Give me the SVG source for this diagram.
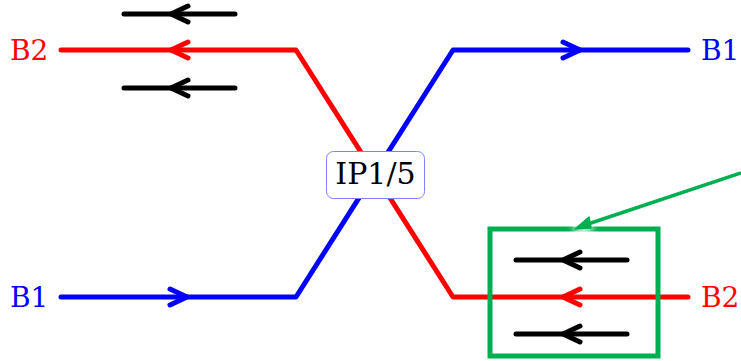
<svg xmlns="http://www.w3.org/2000/svg" xmlns:xlink="http://www.w3.org/1999/xlink" width="741" height="361" viewBox="0 0 741 361">
<style>
.ln{fill:none;stroke-width:5;stroke-linecap:round;stroke-linejoin:round}
.red{stroke:#ff0000}
.blue{stroke:#0000ff}
.blk{stroke:#000000}
.lbl{font-family:"DejaVu Serif",serif;font-size:28px}
</style>
<defs>
<path id="chevL" d="M17,-8 L0,0 L17,8" class="ln"/>
<path id="chevR" d="M-17,-8 L0,0 L-17,8" class="ln"/>
<filter id="glow" x="-1" y="-1" width="3" height="3"><feGaussianBlur stdDeviation="3"/></filter>
</defs>
<rect width="741" height="361" fill="#ffffff"/>
<g id="connectors">
<path class="ln red" d="M61,50 H296 L453,297 H688"/>
<path class="ln blue" d="M61,297 H296 L453,50 H688"/>
<use xlink:href="#chevL" x="171" y="50" class="red"/>
<use xlink:href="#chevL" x="563" y="297" class="red"/>
<use xlink:href="#chevR" x="187" y="297" class="blue"/>
<use xlink:href="#chevR" x="580" y="50" class="blue"/>
</g>
<g id="beam-top">
<path class="ln blk" d="M124,14 H235 M124,88 H235"/>
<use xlink:href="#chevL" x="171" y="14" class="blk"/>
<use xlink:href="#chevL" x="171" y="88" class="blk"/>
</g>
<g id="beam-box">
<path class="ln blk" d="M516,260 H627 M516,334 H627"/>
<use xlink:href="#chevL" x="563" y="260" class="blk"/>
<use xlink:href="#chevL" x="563" y="334" class="blk"/>
<rect x="490" y="229" width="168" height="127" fill="none" stroke="#00b050" stroke-width="5"/>
</g>
<g id="pointer">
<ellipse cx="583" cy="228" rx="10" ry="5" fill="#ffffff" filter="url(#glow)"/>
<line x1="741" y1="173" x2="588" y2="224" stroke="#00b050" stroke-width="3.5"/>
<path d="M575,229 L589,217 L591,228 Z" fill="#00b050" stroke="#00b050" stroke-width="1.5" stroke-linejoin="round"/>
</g>
<g id="ip">
<rect x="326.5" y="151.5" width="98" height="47" rx="7" fill="#ffffff" stroke="#8080ff" stroke-width="1"/>
<text x="375.5" y="184" text-anchor="middle" class="lbl" font-size="30" style="font-size:30px" fill="#000000">IP1/5</text>
</g>
<g id="labels">
<text x="10" y="60" class="lbl" fill="#ff0000">B2</text>
<text x="10" y="307" class="lbl" fill="#0000ff">B1</text>
<text x="701" y="60" class="lbl" fill="#0000ff">B1</text>
<text x="701" y="307" class="lbl" fill="#ff0000">B2</text>
</g>
</svg>
